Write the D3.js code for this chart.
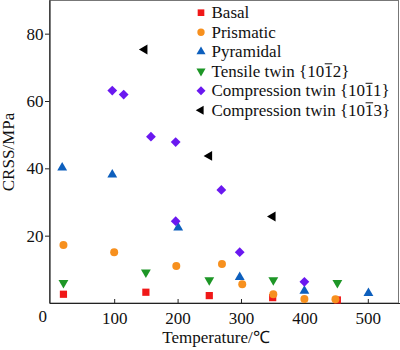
<!DOCTYPE html>
<html>
<head>
<meta charset="utf-8">
<script src="https://cdn.jsdelivr.net/npm/d3@7"></script>
<style>
  body { margin: 0; background: #fff; }
  text { font-family: "Liberation Serif", "Times New Roman", serif; }
</style>
</head>
<body>
<div id="chart"></div>
<script>
// data
var basalT = [20, 150, 250, 350, 452];
var basalV = [2.6, 3.2, 2.2, 1.6, 0.9];
var prismT = [20, 100, 198, 270, 302, 351, 400, 449];
var prismV = [17.2, 15.1, 11.0, 11.6, 5.6, 2.6, 1.2, 1.1];
var pyrT = [18, 97, 201, 298, 400, 501];
var pyrV = [40.2, 38.1, 22.4, 7.7, 3.6, 2.9];
var tensT = [20, 150, 250, 351, 452];
var tensV = [6.0, 9.1, 6.8, 6.8, 6.0];
var comp1T = [97, 115, 158, 197, 197, 269, 298, 400];
var comp1V = [63.1, 61.9, 49.4, 47.8, 24.3, 33.6, 15.1, 6.3];
var comp3T = [148, 250, 350];
var comp3V = [75.3, 43.7, 25.7];

var seriesNames = ["Basal", "Prismatic", "Pyramidal", "Tensile twin", "Compression twin", "Compression twin"];
var seriesPlanes = [null, null, null, "2", "1", "3"];
var seriesColors = ["#f01818", "#f7901e", "#0d5fbd", "#1d9626", "#6a18f0", "#000000"];
var xTicks = [100, 200, 300, 400, 500];
var yTicks = [20, 40, 60, 80];

var width = 400, height = 350;

var svg = d3.select("#chart").append("svg")
  .attr("width", width)
  .attr("height", height);

var x = d3.scaleLinear().domain([-2, 550]).range([49.5, 399.5]);
var y = d3.scaleLinear().domain([0, 90]).range([303, 0]);

// outer frame
svg.append("rect")
  .attr("x", 49.5).attr("y", 0.5)
  .attr("width", 349).attr("height", 302.5)
  .attr("fill", "none").attr("stroke", "#777").attr("stroke-width", 1);

var xAxis = svg.append("g")
  .attr("transform", "translate(0,303)")
  .call(d3.axisBottom(x).tickValues(xTicks).tickSizeInner(-4).tickSizeOuter(0).tickPadding(9));
var yAxis = svg.append("g")
  .attr("transform", "translate(49.5,0)")
  .call(d3.axisLeft(y).tickValues(yTicks).tickSizeInner(4.5).tickSizeOuter(0).tickPadding(1.5));

svg.selectAll(".domain").attr("stroke", "#222").attr("stroke-width", 1.2);
svg.selectAll(".tick line").attr("stroke", "#222");
svg.selectAll(".tick text")
  .attr("font-family", "Liberation Serif")
  .attr("font-size", 17)
  .attr("fill", "#111");

svg.append("text")
  .attr("x", 42.7).attr("y", 321.5)
  .attr("text-anchor", "middle")
  .attr("font-size", 17).attr("fill", "#111")
  .text("0");

svg.append("text")
  .attr("x", 216).attr("y", 343)
  .attr("text-anchor", "middle")
  .attr("font-size", 17).attr("fill", "#111")
  .text("Temperature/\u2103");

svg.append("text")
  .attr("transform", "translate(14,152) rotate(-90)")
  .attr("text-anchor", "middle")
  .attr("font-size", 17).attr("fill", "#111")
  .text("CRSS/MPa");

// marker shapes
var shapes = [
  { type: d3.symbolSquare, size: 52, rot: 0 },
  { type: d3.symbolCircle, size: 50, rot: 0 },
  { type: d3.symbolTriangle, size: 42, rot: 0 },
  { type: d3.symbolTriangle, size: 42, rot: 180 },
  { type: d3.symbolSquare, size: 48, rot: 45 },
  { type: d3.symbolTriangle, size: 42, rot: -90 }
];

var allT = [basalT, prismT, pyrT, tensT, comp1T, comp3T];
var allV = [basalV, prismV, pyrV, tensV, comp1V, comp3V];

// draw order: orange sits over red at high temps
var order = [0, 2, 1, 3, 4, 5];
order.forEach(function(i) {
  var pts = allT[i].map(function(t, j) { return { t: t, v: allV[i][j] }; });
  var sym = d3.symbol().type(shapes[i].type).size(shapes[i].size);
  svg.append("g").selectAll("path")
    .data(pts)
    .enter()
    .append("path")
    .attr("d", sym)
    .attr("fill", seriesColors[i])
    .attr("transform", function(d) {
      return "translate(" + x(d.t) + "," + y(d.v) + ") rotate(" + shapes[i].rot + ")";
    });
});

// legend
var legend = svg.append("g");
seriesNames.forEach(function(name, i) {
  var ly = 12.7 + i * 19.5;
  var sym = d3.symbol().type(shapes[i].type).size(shapes[i].size * 0.85);
  legend.append("path")
    .attr("d", sym)
    .attr("fill", seriesColors[i])
    .attr("transform", "translate(201," + ly + ") rotate(" + shapes[i].rot + ")");
  var t = legend.append("text")
    .attr("x", 211.5).attr("y", ly + 5.6)
    .attr("font-size", 17).attr("fill", "#111");
  if (seriesPlanes[i] === null) {
    t.text(name);
  } else {
    var s = name + " {101" + seriesPlanes[i] + "}";
    t.text(s);
    // bar over the third Miller-Bravais index
    var idx = s.indexOf("{") + 3;
    var a = t.node().getStartPositionOfChar(idx).x;
    var b = t.node().getEndPositionOfChar(idx).x;
    legend.append("line")
      .attr("x1", a + 0.5).attr("x2", b - 0.5)
      .attr("y1", ly - 7.4).attr("y2", ly - 7.4)
      .attr("stroke", "#111").attr("stroke-width", 1);
  }
});
</script>
</body>
</html>
